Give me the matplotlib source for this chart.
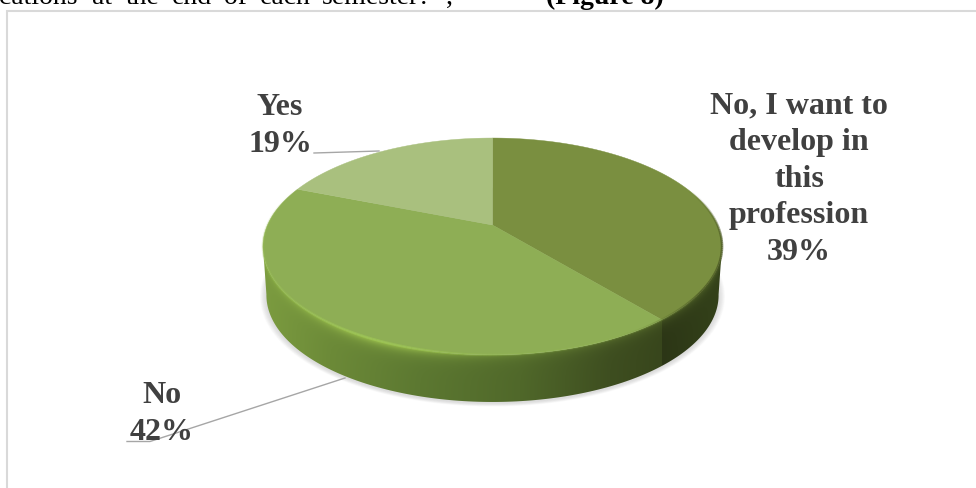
import numpy as np
import matplotlib
matplotlib.use("Agg")
import matplotlib.pyplot as plt
from matplotlib.collections import LineCollection
from matplotlib.patches import Polygon

plt.rcParams['font.family'] = ['Liberation Serif', 'DejaVu Serif']

labels = ["No, I want to\ndevelop in\nthis\nprofession", "No", "Yes"]
values = [39, 42, 19]
slice_colors = ["#7a8f40", "#8eae55", "#a9c07e"]

body_words = ["cations", "at", "the", "end", "of", "each", "semester?", ","]
body_x = [-1, 92, 126, 172, 224, 260, 322, 446]

# pie geometry in pixels, k gives the perspective tilt
cx, cy = 492.5, 225
A, B, k = 225.0, 104.2, 0.198
depth = 49


def project(pct, dy=0.0, scale=1.0):
    t = np.asarray(pct) / 100 * 2 * np.pi
    u, v = np.sin(t), -np.cos(t)
    s = 1 / (1 - k * v)
    return cx + scale * A * u * s, cy + dy + scale * B * v * s


def mix(c1, c2, f):
    return np.array(c1) * (1 - f) + np.array(c2) * f


fig = plt.figure(figsize=(9.76, 4.88), dpi=100)
ax = fig.add_axes([0, 0, 1, 1])
ax.set_xlim(0, 976)
ax.set_ylim(488, 0)
ax.axis("off")

# chart frame, open on the right and at the bottom
ax.plot([7, 7, 976], [488, 11, 11], color="#d9d9d9", lw=1.5, zorder=1,
        solid_joinstyle="miter")

# text of the page above the chart
for w, x in zip(body_words, body_x):
    ax.text(x, 4, w, fontsize=20, color="black", va="baseline", ha="left", zorder=2)
ax.text(546, 4, "(Figure 8)", fontsize=20, fontweight="bold", color="black",
        va="baseline", ha="left", zorder=2)

# soft shadow under the pie
pp = np.linspace(0, 100, 361)
for i in range(10):
    sx, sy = project(pp, dy=depth + 1, scale=0.985 + 0.0028 * (10 - i))
    ax.add_patch(Polygon(np.c_[sx, sy], closed=True, fc="#808080", ec="none",
                         alpha=0.028, zorder=3))

# side wall, shaded per pixel and clipped to the outline
top_x, top_y = project(pp)
bot_x, bot_y = project(pp, dy=depth, scale=0.985)
right = np.argmax(top_x)
left = np.argmin(top_x)
front_top = np.arange(right, left + 1)
bright = np.argmax(bot_x)
bleft = np.argmin(bot_x)
front_bot = np.arange(bright, bleft + 1)
outline = np.r_[np.c_[top_x[front_top], top_y[front_top]],
                np.c_[bot_x[front_bot], bot_y[front_bot]][::-1]]

cum = np.cumsum(values)
split_x = project(cum[0])[0]

xs = np.arange(255, 731)
ys = np.arange(200, 420)
gx, gy = np.meshgrid(xs + 0.5, ys + 0.5)
order = np.argsort(top_x[front_top])
edge_y = np.interp(gx, top_x[front_top][order], top_y[front_top][order])

stops_x = [262, 330, 420, 520, 610, split_x, split_x + 0.5, 724]
stops_c = np.array([[0x7c, 0x9c, 0x40], [0x6c, 0x8a, 0x38], [0x5c, 0x78, 0x31],
                    [0x50, 0x68, 0x2a], [0x3e, 0x4e, 0x20], [0x38, 0x46, 0x1c],
                    [0x2c, 0x36, 0x16], [0x34, 0x42, 0x1a]]) / 255
rgb = np.stack([np.interp(gx, stops_x, stops_c[:, i]) for i in range(3)], axis=-1)

# lit bevel just under the top edge, strongest on the lower left
glow = np.exp(-((gx - 375) / 85) ** 2) * 0.7 + 0.22
fall = np.exp(-np.clip(gy - edge_y, 0, None) / 5.0)[..., None]
rgb = rgb + (np.array([0xa4, 0xca, 0x52]) / 255 - rgb) * fall * glow[..., None]

im = ax.imshow(rgb, extent=[xs[0], xs[-1] + 1, ys[-1] + 1, ys[0]], aspect="auto",
               interpolation="bilinear", zorder=4)
clip = Polygon(outline, closed=True, transform=ax.transData, fc="none", ec="none")
ax.add_patch(clip)
im.set_clip_path(clip)
ax.set_xlim(0, 976)
ax.set_ylim(488, 0)

# top face, one wedge per value, clockwise from twelve o'clock
start = 0
for v, col in zip(values, slice_colors):
    p = np.linspace(start, start + v, max(int(v * 4), 8))
    wx, wy = project(p)
    ax.add_patch(Polygon(np.r_[[[cx, cy]], np.c_[wx, wy]], closed=True, fc=col,
                         ec=col, lw=0.3, zorder=5))
    start += v

# rim shading along the top edge: light on the left, dark on the right
pts = np.c_[top_x, top_y]
segs = np.stack([pts[:-1], pts[1:]], axis=1)
seg_colors = []
for i in range(len(segs)):
    x_mid = segs[i, :, 0].mean()
    y_mid = segs[i, :, 1].mean()
    f = np.clip((x_mid - 600) / 100, 0, 1)
    col = mix([0.62, 0.78, 0.33], [0.28, 0.33, 0.13], f)
    lit = np.exp(-((x_mid - 375) / 90) ** 2)
    a = np.clip((y_mid - 190) / 50, 0, 1) * max(0.15 + 0.55 * lit, 0.7 * f)
    seg_colors.append((*col, a))
ax.add_collection(LineCollection(segs, colors=seg_colors, linewidths=1.8, zorder=6))

# leader lines
leader_color = "#a6a6a6"
ax.plot([314, 379], [153, 151], color=leader_color, lw=1.0, zorder=3)
ax.plot([127, 150, 345], [441.5, 441.5, 378], color=leader_color, lw=1.0, zorder=3)

# data labels, each line placed on its own baseline
label_pos = [(799, 113), (162, 403), (280, 115)]
for name, v, (lx, ly) in zip(labels, values, label_pos):
    lines = name.split("\n") + [f"{v}%"]
    for i, line in enumerate(lines):
        ax.text(lx, ly + i * 36.8, line, fontsize=23, fontweight="bold", color="#404040",
                ha="center", va="baseline", zorder=8)

fig.savefig("out.png", dpi=100)
